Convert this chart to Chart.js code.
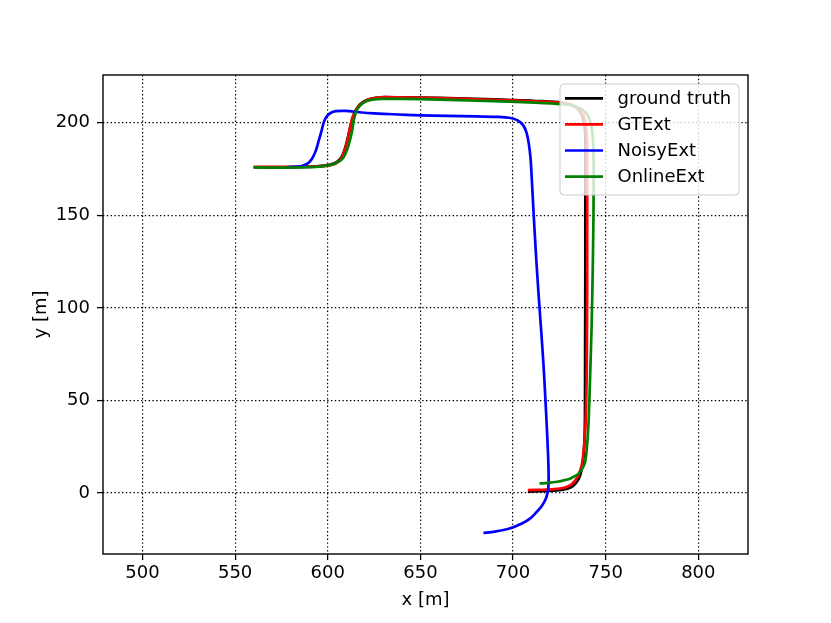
<!DOCTYPE html>
<html>
<head>
<meta charset="utf-8">
<script src="https://cdn.jsdelivr.net/npm/chart.js@4.4.1/dist/chart.umd.min.js"></script>
<style>
  body { margin: 0; background: #ffffff; }
  canvas { display: block; }
</style>
</head>
<body>
<canvas id="traj" width="831" height="623"></canvas>
<script>
//series names and colours
const seriesNames = ["ground truth", "GTExt", "NoisyExt", "OnlineExt"];
const seriesColors = ["#000000", "#ff0000", "#0000ff", "#008000"];
//tick values of both axes
const xTicks = [500, 550, 600, 650, 700, 750, 800];
const yTicks = [0, 50, 100, 150, 200];

//ground truth path (from start at the bottom)
const gtX = [708, 715, 722, 727, 731, 734, 736.2, 737.6, 738.4, 738.8, 738.9, 739, 739, 739, 738.7, 737.6, 735.5, 732, 726, 715, 700, 680, 660, 640, 629, 623.5, 619.5, 616.5, 614.3, 612.7, 611.3, 609.7, 607.8, 605, 601, 594, 585, 572, 560];
const gtY = [0.8, 1.0, 1.3, 1.8, 3.0, 5.5, 9.5, 16, 25, 40, 80, 120, 160, 190, 197, 203, 206.8, 209.3, 210.8, 211.6, 212.2, 212.8, 213.3, 213.6, 213.7, 213.0, 211.4, 208.8, 205, 200, 194, 187.5, 182, 178.8, 177.2, 176.4, 176.0, 175.9, 175.9];
//GTExt path
const gtExtX = [708, 716, 722, 727, 731, 733.7, 735.8, 737.3, 738.7, 739.4, 739.8, 740, 740, 740, 739.7, 738.8, 737, 734, 729, 723, 712, 698, 680, 660, 640, 630, 624.3, 620, 617, 615, 613.3, 612, 610.8, 609.5, 607.5, 604.5, 600, 593.6, 580, 560];
const gtExtY = [1.6, 1.8, 2.1, 2.7, 4.3, 7, 11, 16.2, 30, 45, 70, 110, 150, 185, 195, 201, 205.5, 208.5, 210.3, 210.9, 211.5, 212, 212.6, 213.2, 213.6, 213.8, 213.1, 211.6, 209.3, 206.3, 202.5, 197, 191, 186, 181, 178, 176.8, 176.4, 176.1, 176.1];
//NoisyExt path
const noisyX = [684, 690, 697.7, 705, 709.5, 712.5, 715.5, 717.5, 718.7, 719.2, 719.2, 719.0, 718.4, 717.5, 716.5, 715.3, 714, 712.6, 711.2, 710.2, 709.5, 708.6, 707.3, 705.5, 702.5, 698, 692, 680, 665, 650, 635, 625, 617, 609.7, 604.4, 601.5, 599.3, 597.8, 596.5, 595.2, 593.6, 591.5, 589, 586, 582, 578];
const noisyY = [-21.5, -20.8, -19.3, -16.3, -13.5, -10.5, -7, -3.5, 0.5, 5, 10, 18, 32, 50, 68, 86, 104, 125, 149, 168, 180, 188, 194.5, 198.5, 201.2, 202.6, 203.1, 203.4, 203.6, 203.9, 204.5, 205, 205.6, 206.3, 206.2, 205.2, 203.2, 200, 195, 190.5, 185, 180.5, 177.8, 176.6, 176.1, 176];
//OnlineExt path
const onlineX = [714.3, 719, 723.8, 728, 731, 735.5, 738.7, 739.9, 740.8, 741.5, 742.4, 743, 743.4, 743.5, 743.2, 742.3, 740.5, 737.5, 733, 726, 712, 698, 680, 660, 640, 630, 624.1, 619.6, 616, 614.2, 613, 610.6, 607.9, 602.5, 595, 588, 576, 560];
const onlineY = [5.2, 5.5, 6.1, 7, 7.9, 10.6, 16, 25, 39.4, 60, 90, 120, 150, 175, 190, 198, 203.5, 207, 209, 210, 210.8, 211.3, 211.8, 212.4, 212.8, 212.8, 212.4, 211, 207.4, 202, 194.8, 185.8, 180.4, 177.4, 176.2, 175.9, 175.7, 175.8];

const paths = [[gtX, gtY], [gtExtX, gtExtY], [noisyX, noisyY], [onlineX, onlineY]];
const font = { family: "'DejaVu Sans', sans-serif", size: 18 };

//frame round the plot and legend in the upper right corner
const framePlugin = {
  id: "frame",
  afterDatasetsDraw(chart) {
    const { ctx, chartArea: a } = chart;
    ctx.save();
    ctx.strokeStyle = "#000000";
    ctx.lineWidth = 1.4;
    ctx.strokeRect(a.left, a.top, a.right - a.left, a.bottom - a.top);

    // legend box
    const bx = 560, by = 84, bw = 179, bh = 111, r = 4;
    ctx.beginPath();
    ctx.roundRect(bx, by, bw, bh, r);
    ctx.fillStyle = "rgba(255,255,255,0.8)";
    ctx.fill();
    ctx.strokeStyle = "#cccccc";
    ctx.lineWidth = 1;
    ctx.stroke();
    ctx.font = "18px 'DejaVu Sans', sans-serif";
    ctx.textBaseline = "middle";
    ctx.textAlign = "left";
    chart.data.datasets.forEach((ds, i) => {
      const yy = 98.3 + i * 26.1;
      ctx.strokeStyle = ds.borderColor;
      ctx.lineWidth = 2.7;
      ctx.beginPath();
      ctx.moveTo(565, yy);
      ctx.lineTo(603, yy);
      ctx.stroke();
      ctx.fillStyle = "#000000";
      ctx.fillText(ds.label, 617.5, yy + 1);
    });
    ctx.restore();
  },
};

const gridOpts = {
  color: "#000000",
  lineWidth: 1.2,
  borderDash: [1.4, 2.4],
  tickLength: 6,
  tickColor: "#000000",
  tickWidth: 1.3,
  tickBorderDash: [],
};

let myChart = new Chart(document.getElementById("traj"), {
  type: "scatter",
  plugins: [framePlugin],
  data: {
    datasets: paths.map((p, i) => ({
      label: seriesNames[i],
      data: p[0].map((x, k) => ({ x: x, y: p[1][k] })),
      showLine: true,
      borderColor: seriesColors[i],
      backgroundColor: seriesColors[i],
      borderWidth: 2.7,
      pointRadius: 0,
      tension: 0.25,
      fill: false,
      // later series drawn on top, like the original plot
      order: paths.length - 1 - i,
    })),
  },
  options: {
    responsive: false,
    devicePixelRatio: 1,
    animation: false,
    layout: { padding: { top: 75, right: 83, left: 0, bottom: 0 } },
    plugins: { legend: { display: false }, tooltip: { enabled: false } },
    scales: {
      x: {
        type: "linear",
        min: 478.7,
        max: 826.8,
        grid: gridOpts,
        border: { display: false, dash: [1.4, 2.4] },
        afterBuildTicks: (s) => { s.ticks = xTicks.map((v) => ({ value: v })); },
        afterFit: (s) => { s.height = 69; },
        ticks: { color: "#000000", font: font, padding: 3, maxRotation: 0, autoSkip: false },
        title: { display: true, text: "x [m]", color: "#000000", font: font, padding: { top: 0, bottom: 12 } },
      },
      y: {
        type: "linear",
        min: -32.9,
        max: 225.7,
        grid: gridOpts,
        border: { display: false, dash: [1.4, 2.4] },
        afterBuildTicks: (s) => { s.ticks = yTicks.map((v) => ({ value: v })); },
        afterFit: (s) => { s.width = 103; },
        ticks: { color: "#000000", font: font, padding: 7, autoSkip: false },
        title: { display: true, text: "y [m]", color: "#000000", font: font, padding: { top: 31, bottom: 0 } },
      },
    },
  },
});
</script>
</body>
</html>
